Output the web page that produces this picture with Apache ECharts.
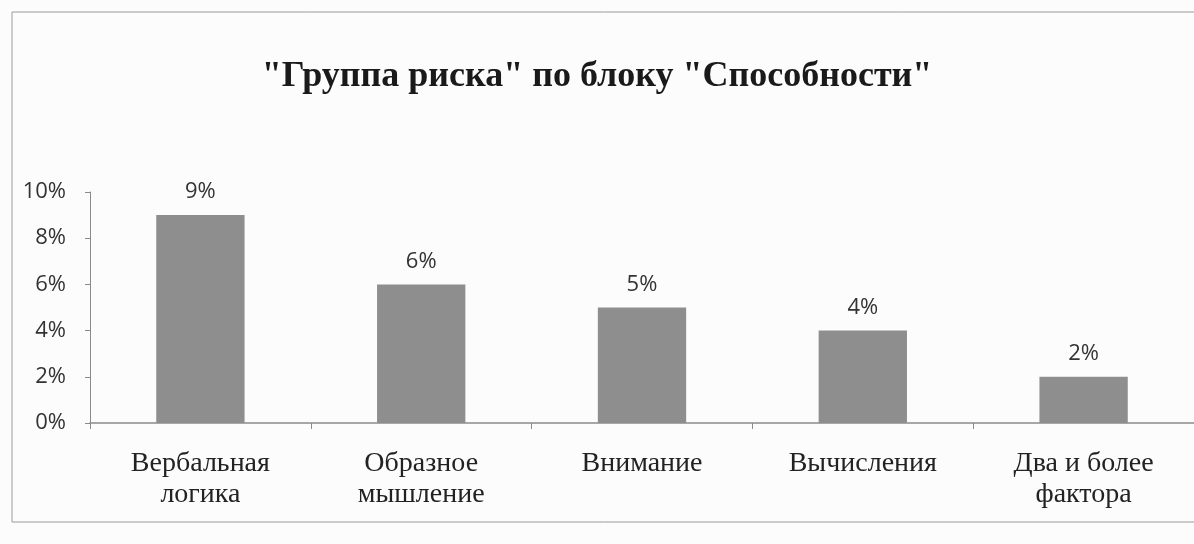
<!DOCTYPE html>
<html>
<head>
<meta charset="utf-8">
<script src="https://cdn.jsdelivr.net/npm/echarts@6/dist/echarts.min.js"></script>
<style>
  html, body { margin: 0; padding: 0; background: #fcfcfc; }
  #main { width: 1194px; height: 544px; }
</style>
</head>
<body>
<div id="main"></div>
<script>
// данные диаграммы
var titleText = '"Группа риска" по блоку "Способности"'
var categories = ['Вербальная\nлогика', 'Образное\nмышление', 'Внимание', 'Вычисления', 'Два и более\nфактора']
var values = [9, 6, 5, 4, 2]
var yTicks = [0, 2, 4, 6, 8, 10]

var myChart = echarts.init(document.getElementById('main'))
myChart.setOption({
  backgroundColor: '#fcfcfc',
  animation: false,
  graphic: [
    {
      type: 'rect',
      shape: { x: 12, y: 12, width: 1200, height: 510 },
      style: { fill: 'none', stroke: '#9a9a9a', lineWidth: 1 }
    }
  ],
  title: {
    text: titleText,
    left: 'center',
    top: 54,
    textStyle: {
      fontFamily: 'Liberation Serif',
      fontSize: 36,
      fontWeight: 'bold',
      color: '#1a1a1a'
    }
  },
  grid: { left: 90, right: -6, top: 192, bottom: 121 },
  xAxis: {
    type: 'category',
    data: categories,
    axisLine: { lineStyle: { color: '#8a8a8a', width: 1.5 } },
    axisTick: { show: true, length: 6, lineStyle: { color: '#8a8a8a' } },
    axisLabel: {
      margin: 25,
      fontFamily: 'Liberation Serif',
      fontSize: 28,
      lineHeight: 31,
      color: '#222'
    }
  },
  yAxis: {
    type: 'value',
    min: yTicks[0],
    max: yTicks[yTicks.length - 1],
    interval: 2,
    splitLine: { show: false },
    axisLine: { show: true, lineStyle: { color: '#8a8a8a' } },
    axisTick: { show: true, length: 5, lineStyle: { color: '#8a8a8a' } },
    axisLabel: {
      margin: 24,
      fontFamily: 'Open Sans',
      fontSize: 22,
      color: '#333',
      formatter: '{value}%'
    }
  },
  series: [
    {
      type: 'bar',
      data: values,
      barWidth: '40%',
      itemStyle: { color: '#8e8e8e' },
      label: {
        show: true,
        position: 'top',
        distance: 12,
        fontFamily: 'Open Sans',
        fontSize: 22,
        color: '#333',
        formatter: '{c}%'
      }
    }
  ]
})
</script>
</body>
</html>
